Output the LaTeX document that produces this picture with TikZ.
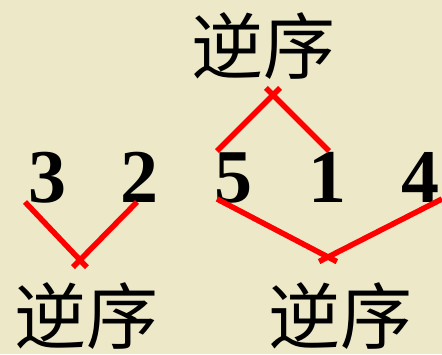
\documentclass[tikz,border=0pt]{standalone}
\usepackage{fontspec}
\setmainfont{Liberation Serif}
\newfontfamily\cjk{Noto Sans CJK SC}
\definecolor{bgbeige}{RGB}{236,232,200}
\definecolor{linered}{RGB}{255,0,0}
\tikzset{
  digit/.style={font=\fontsize{76}{76}\selectfont\bfseries, inner sep=0pt, anchor=base},
  cjklabel/.style={font=\cjk\fontsize{72}{72}\selectfont, inner sep=0pt, anchor=base},
  pairline/.style={draw=linered, line width=5.5pt, shorten >=-10pt}
}
\begin{document}
\begin{tikzpicture}[x=1pt,y=-1pt]
\fill[bgbeige] (0,0) rectangle (442,354);
\useasboundingbox (0,0) rectangle (442,354);
% digits
\node[digit] (d3) at (47,202) {3};
\node[digit] (d2) at (139,202) {2};
\node[digit] (d5) at (233,202) {5};
\node[digit] (d1) at (327,202) {1};
\node[digit] (d4) at (420,202) {4};
% labels
\node[cjklabel] (ltop) at (263,73) {逆序};
\node[cjklabel] (lleft) at (86,343) {逆序};
\node[cjklabel] (lright) at (340,343) {逆序};
% line ends and apexes
\coordinate (t1) at (217,151);
\coordinate (ta) at (273,95);
\coordinate (t2) at (329,151);
\coordinate (b1) at (25,202);
\coordinate (ba) at (80,260);
\coordinate (b2) at (137,202);
\coordinate (c1) at (217,199);
\coordinate (ca) at (328,257);
\coordinate (c2) at (442,199);
% connectors
\draw[pairline] (t1) -- (ta);
\draw[pairline] (t2) -- (ta);
\draw[pairline] (b1) -- (ba);
\draw[pairline] (b2) -- (ba);
\draw[pairline] (c1) -- (ca);
\draw[pairline] (c2) -- (ca);
\end{tikzpicture}
\end{document}
